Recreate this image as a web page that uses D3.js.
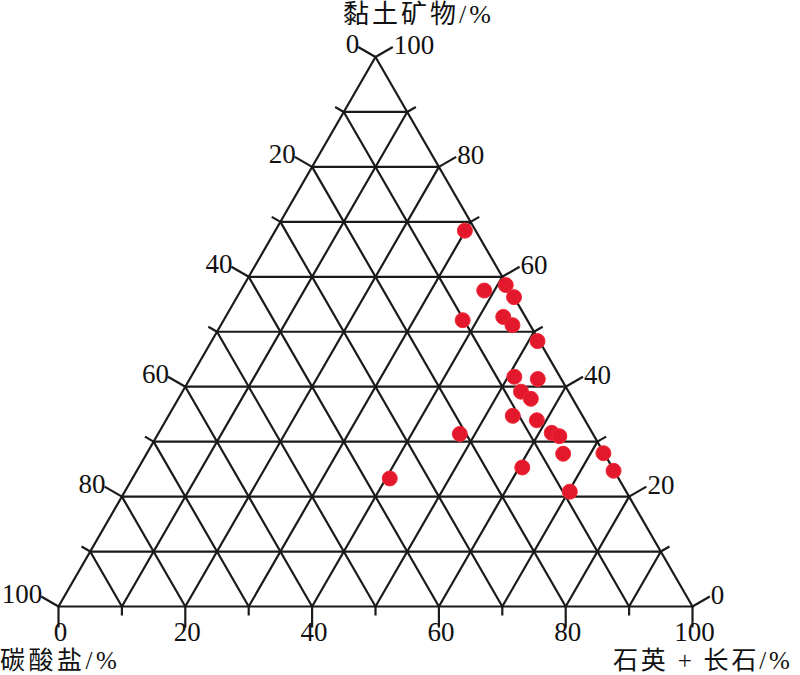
<!DOCTYPE html>
<html>
<head>
<meta charset="utf-8">
<script src="https://cdn.jsdelivr.net/npm/d3@7"></script>
<style>
  html, body { margin: 0; padding: 0; background: #fff; }
  svg { display: block; }
  text { font-family: "Liberation Serif", "Times New Roman", "Noto Sans CJK SC", serif; fill: #111; }
  .cjk { font-family: "Liberation Serif", "Noto Sans CJK SC", serif; }
</style>
</head>
<body>
<svg id="chart" width="800" height="675"></svg>
<script>
// ---- Data (percent) ----
const sampleIds = d3.range(1, 24);
const clay = [68.4, 57.5, 58.5, 56.3, 52.1, 52.7, 51.2, 48.3, 41.8, 41.4, 39.1, 37.8,
              34.7, 33.9, 31.6, 31.0, 27.8, 27.9, 24.7, 25.3, 20.9, 31.4, 23.3];
const quartzFeldspar = [29.9, 38.4, 41.3, 43.7, 37.7, 43.8, 46.0, 51.4, 51.0, 54.9, 53.4, 55.6,
                        54.3, 58.5, 62.0, 63.5, 65.7, 72.0, 75.2, 60.5, 70.2, 47.6, 40.6];
const carbonate = [1.7, 4.1, 0.2, 0.0, 10.2, 3.5, 2.8, 0.3, 7.2, 3.7, 7.5, 6.6,
                   11.0, 7.6, 6.4, 5.5, 6.5, 0.1, 0.1, 14.2, 8.9, 21.0, 36.1];
const gridValues = [0, 10, 20, 30, 40, 50, 60, 70, 80, 90, 100];
const tickLabels = [0, 20, 40, 60, 80, 100];
const axisTitles = { clay: "黏土矿物/%", carbonate: "碳酸盐/%", quartz: "石英 + 长石/%" };

// ---- Geometry ----
const Bx = 58.5, Cx = 692.5, baseY = 606.5, apexY = 57;
const qScale = d3.scaleLinear().domain([0, 100]).range([Bx, Cx]);
const cScale = d3.scaleLinear().domain([0, 100]).range([baseY, apexY]);
const shift = d3.scaleLinear().domain([0, 100]).range([0, (Cx - Bx) / 2]);
function proj(q, c) { return [qScale(q) + shift(c), cScale(c)]; }

const svg = d3.select("#chart");
const lineColor = "#1a1a1a";
const g = svg.append("g");

// grid lines (every 10%)
const segs = [];
gridValues.forEach(v => {
  segs.push([proj(0, v), proj(100 - v, v)]);          // constant clay
  segs.push([proj(v, 0), proj(v, 100 - v)]);          // constant quartz+feldspar
  segs.push([proj(100 - v, 0), proj(0, 100 - v)]);    // constant carbonate
});
g.selectAll("line.grid").data(segs).join("line")
  .attr("class", "grid")
  .attr("x1", d => d[0][0]).attr("y1", d => d[0][1])
  .attr("x2", d => d[1][0]).attr("y2", d => d[1][1])
  .attr("stroke", lineColor).attr("stroke-width", 2.2)
  .attr("stroke-linecap", "round");

// ticks
const cos30 = Math.cos(Math.PI / 6), sin30 = 0.5;
const ticks = [];
gridValues.forEach(v => {
  const major = tickLabels.includes(v);
  ticks.push({ axis: "q", v, major, p: proj(v, 0), d: [0, 1], len: major ? 21 : 9 });
  ticks.push({ axis: "k", v, major, p: proj(0, 100 - v), d: [-cos30, -sin30], len: major ? 20 : 10 });
  ticks.push({ axis: "c", v, major, p: proj(100 - v, v), d: [cos30, -sin30], len: major ? 20 : 10 });
});
g.selectAll("line.tick").data(ticks).join("line")
  .attr("class", "tick")
  .attr("x1", d => d.p[0]).attr("y1", d => d.p[1])
  .attr("x2", d => d.p[0] + d.d[0] * d.len).attr("y2", d => d.p[1] + d.d[1] * d.len)
  .attr("stroke", lineColor).attr("stroke-width", 2.2);

// tick labels
const labelled = ticks.filter(d => d.major);
g.selectAll("text.tl").data(labelled).join("text")
  .attr("class", "tl")
  .attr("font-size", 27)
  .attr("x", d => {
    const ex = d.p[0] + d.d[0] * d.len;
    return d.axis === "q" ? ex + 2 : ex + 1;
  })
  .attr("y", d => {
    const ey = d.p[1] + d.d[1] * d.len;
    if (d.axis === "q") return ey + 13.5;
    if (d.axis === "k") return ey + 6;
    return ey + 7;
  })
  .attr("text-anchor", d => d.axis === "q" ? "middle" : (d.axis === "k" ? "end" : "start"))
  .text(d => d.v);

// points
g.selectAll("circle.pt").data(sampleIds.map((id, i) => ({ id, q: quartzFeldspar[i], c: clay[i], k: carbonate[i] })))
  .join("circle")
  .attr("class", "pt")
  .attr("cx", d => proj(d.q, d.c)[0])
  .attr("cy", d => proj(d.q, d.c)[1])
  .attr("r", 7.5)
  .attr("fill", "#e3182c")
  .attr("stroke", "#f22a38")
  .attr("stroke-width", 1);

// axis titles
svg.append("text").attr("class", "cjk").attr("x", 343).attr("y", 23)
  .attr("font-size", 26).attr("letter-spacing", 3).text(axisTitles.clay);
svg.append("text").attr("class", "cjk").attr("x", 0).attr("y", 669)
  .attr("font-size", 25).attr("letter-spacing", 3.5).text(axisTitles.carbonate);
svg.append("text").attr("class", "cjk").attr("x", 613).attr("y", 669)
  .attr("font-size", 25).attr("letter-spacing", 2.8).text(axisTitles.quartz);
</script>
</body>
</html>
